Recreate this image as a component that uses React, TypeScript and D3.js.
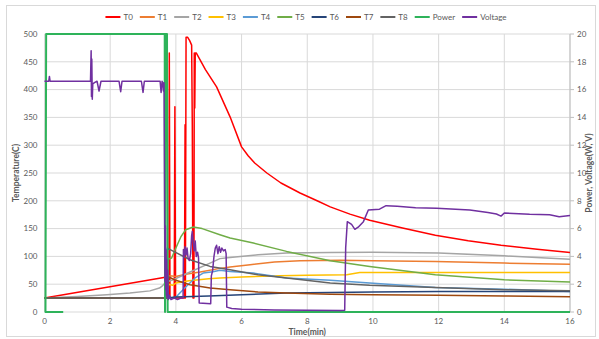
import React from 'react';
import * as d3 from 'd3';

// time in minutes, temperature in C (left axis) / power & voltage on right axis
const t0Data: [number, number][] = [
  [0, 25], [3.72, 63], [3.74, 26], [3.79, 25], [3.8, 466], [3.82, 26], [3.95, 25], [3.97, 369], [3.99, 25],
  [4.26, 25], [4.28, 337], [4.29, 25], [4.31, 494], [4.36, 494], [4.42, 488], [4.48, 480], [4.5, 335],
  [4.52, 25], [4.55, 25], [4.56, 466], [4.575, 367], [4.59, 466], [4.62, 466], [4.9, 436], [5.24, 405],
  [5.65, 351], [6.0, 297], [6.2, 281], [6.4, 268], [6.77, 250], [7.2, 232], [7.78, 214], [8.3, 200], [8.7, 189],
  [9.3, 176], [9.9, 165], [10.9, 151], [11.9, 138], [12.9, 128], [13.9, 120], [15.0, 113], [16, 107],
];
const t1Data: [number, number][] = [
  [0, 25], [3.72, 26], [3.76, 63], [3.82, 65], [4.0, 64], [4.3, 68], [4.74, 72], [5.3, 78], [5.65, 81],
  [6.26, 85], [7.0, 90], [7.78, 92], [9.0, 93], [10, 92], [11.9, 91], [14, 88], [16, 86],
];
const t2Data: [number, number][] = [
  [0, 25], [1.0, 28], [1.9, 31], [2.6, 34], [3.21, 38], [3.5, 43], [3.57, 46], [3.67, 52], [3.75, 55],
  [3.92, 58], [4.43, 72], [5.04, 88], [5.34, 96], [5.65, 98], [6.5, 103], [7.37, 106], [8.7, 107],
  [10, 107.5], [12, 106], [14, 101], [16, 95],
];
const t3Data: [number, number][] = [
  [0, 25], [3.72, 26], [3.78, 50], [3.9, 48], [4.0, 52], [4.4, 56], [5.0, 60], [5.34, 61], [6.0, 63],
  [7.17, 65], [8.0, 66], [9.2, 67], [9.6, 71], [12, 71], [16, 71],
];
const t4Data: [number, number][] = [
  [0, 25], [3.72, 25], [3.9, 25], [4.02, 28], [4.3, 45], [4.6, 62], [4.83, 70], [5.13, 72.5], [5.34, 75],
  [5.65, 73], [6.36, 70], [7.37, 61], [8.7, 57], [9.9, 52], [11.9, 44], [14, 41], [16, 37],
];
const t5Data: [number, number][] = [
  [0, 25], [3.72, 25], [3.76, 95], [3.87, 97], [4.0, 115], [4.15, 135], [4.3, 148], [4.53, 153], [4.8, 150],
  [5.34, 139], [5.65, 133], [6.36, 124], [7.37, 109], [8.7, 92], [9.9, 82], [11.9, 67], [14, 58], [16, 54],
];
const t6Data: [number, number][] = [
  [0, 25], [3.72, 25], [4, 27], [5, 29], [6, 31], [7.37, 34], [8.7, 35], [10, 36], [12, 37], [14, 37], [16, 37],
];
const t7Data: [number, number][] = [
  [0, 25], [3.72, 25], [3.78, 63], [3.82, 62], [4.0, 57], [4.43, 49], [5.04, 43], [5.65, 40], [6.5, 36],
  [7.37, 34], [8.7, 32], [10, 31], [12, 30], [14, 29], [16, 27.5],
];
const t8Data: [number, number][] = [
  [0, 25], [3.7, 25], [3.74, 115], [3.9, 110], [4.43, 94], [5.04, 82], [5.65, 76], [6.5, 67], [7.37, 61],
  [8.7, 52], [9.9, 48], [11.9, 44], [14, 40], [16, 38],
];
const powerData: [number, number][] = [
  [0.57, 0], [0.03, 0], [0.05, 20], [3.66, 20], [3.67, 0], [3.68, 20], [3.73, 20], [3.75, 0], [16, 0],
];
const voltageData: [number, number][] = [
  [0, 16.6], [0.13, 16.6], [0.15, 16.95], [0.17, 16.6], [1.4, 16.6], [1.42, 18.8], [1.43, 15.5], [1.44, 18.2],
  [1.455, 15.3], [1.47, 16.4], [1.52, 16.5], [1.6, 16.6], [1.66, 15.9], [1.72, 16.6], [2.27, 16.6],
  [2.32, 15.85], [2.36, 16.6], [2.95, 16.6], [3.0, 15.8], [3.04, 16.6], [3.52, 16.6], [3.55, 15.8],
  [3.58, 16.6], [3.6, 16.5], [3.62, 15.9], [3.64, 16.5], [3.66, 5.8], [3.67, 2.2], [3.68, 6.2], [3.69, 1.6],
  [3.7, 4.5], [3.71, 1.2], [3.72, 3.8], [3.73, 1.0], [3.75, 3.0], [3.77, 0.9], [3.8, 1.2], [3.85, 0.9],
  [3.95, 1.0], [4.05, 0.9], [4.15, 1.0], [4.22, 1.0], [4.23, 4.5], [4.26, 4.0], [4.28, 4.7], [4.31, 4.1],
  [4.34, 4.6], [4.37, 3.9], [4.41, 3.7], [4.45, 4.2], [4.48, 5.5], [4.5, 5.8], [4.53, 5.0], [4.56, 4.4],
  [4.59, 5.1], [4.62, 4.0], [4.66, 4.3], [4.69, 3.9], [4.71, 0.65], [5.06, 0.6], [5.08, 2.6], [5.12, 3.0],
  [5.16, 4.0], [5.2, 4.6], [5.24, 4.8], [5.28, 4.2], [5.32, 4.7], [5.36, 4.3], [5.4, 4.6], [5.45, 4.4],
  [5.5, 4.5], [5.53, 4.2], [5.55, 0.35], [5.7, 0.25], [6.0, 0.2], [7.0, 0.15], [8.0, 0.12], [9.0, 0.1],
  [9.14, 0.12], [9.17, 4.6], [9.22, 6.5], [9.35, 6.3], [9.45, 5.95], [9.55, 6.1], [9.71, 6.5], [9.86, 7.34],
  [10.2, 7.4], [10.4, 7.65], [10.74, 7.6], [11.3, 7.5], [11.94, 7.46], [12.95, 7.34], [13.5, 7.15],
  [13.76, 7.05], [13.9, 6.9], [14.0, 7.12], [14.77, 7.03], [15.38, 7.0], [15.67, 6.86], [16, 6.94],
];

const seriesNames = ['T0', 'T1', 'T2', 'T3', 'T4', 'T5', 'T6', 'T7', 'T8', 'Power', 'Voltage'];
const seriesColors = ['#ff0000', '#ed7d31', '#a5a5a5', '#ffc000', '#5b9bd5', '#70ad47', '#264478', '#9e480e', '#636363', '#2eb35a', '#7030a0'];
const seriesData = [t0Data, t1Data, t2Data, t3Data, t4Data, t5Data, t6Data, t7Data, t8Data, powerData, voltageData];
const rightAxisSeries = ['Power', 'Voltage'];

const xTicks = [0, 2, 4, 6, 8, 10, 12, 14, 16];
const leftTicks = [0, 50, 100, 150, 200, 250, 300, 350, 400, 450, 500];
const rightTicks = [0, 2, 4, 6, 8, 10, 12, 14, 16, 18, 20];

const W = 599;
const H = 339;
const FONT = 'Lato, "Open Sans", sans-serif';
const TXT = '#595959';

function measure(text: string, size: number) {
  const c = document.createElement('canvas').getContext('2d');
  if (!c) return text.length * size * 0.5;
  c.font = `${size}px Lato`;
  return c.measureText(text).width;
}

export default function App() {
  const left = 44.5, right = 570, top = 34, bottom = 312;

  const x = d3.scaleLinear().domain([0, 16]).range([left, right]);
  const yL = d3.scaleLinear().domain([0, 500]).range([bottom, top]);
  const yR = d3.scaleLinear().domain([0, 20]).range([bottom, top]);

  // legend layout, centred over the plot
  const fs = 8;
  const gap = 7;
  const items = seriesNames.map((n) => ({ n, w: 15 + 3 + measure(n, fs) + gap }));
  const total = d3.sum(items, (d) => d.w) - gap;
  let cx = 306 - total / 2;
  const legend = items.map((it, i) => {
    const pos = cx;
    cx += it.w;
    return { ...it, x: pos, color: seriesColors[i] };
  });

  return (
    <svg width={W} height={H} style={{ position: 'absolute', left: 0, top: 0, background: '#fff' }} fontFamily={FONT}>
      <rect x={6.5} y={5.5} width={589} height={331} fill="#fff" stroke="#d9d9d9" />

      {/* gridlines */}
      {leftTicks.map((v) => (
        <line key={'h' + v} x1={left} x2={right} y1={yL(v)} y2={yL(v)} stroke="#d9d9d9" strokeWidth={1} />
      ))}
      {xTicks.map((v) => (
        <line key={'v' + v} x1={x(v)} x2={x(v)} y1={top} y2={bottom} stroke="#d9d9d9" strokeWidth={1} />
      ))}

      {/* right axis */}
      <line x1={right} x2={right} y1={top} y2={bottom} stroke="#bfbfbf" />
      {rightTicks.map((v) => (
        <g key={'r' + v}>
          <line x1={right} x2={right + 4} y1={yR(v)} y2={yR(v)} stroke="#bfbfbf" />
          <text x={right + 7} y={yR(v)} dy="0.35em" fontSize={8} fill={TXT}>{v}</text>
        </g>
      ))}
      {leftTicks.map((v) => (
        <text key={'l' + v} x={left - 7} y={yL(v)} dy="0.35em" textAnchor="end" fontSize={8} fill={TXT}>{v}</text>
      ))}
      {xTicks.map((v) => (
        <text key={'x' + v} x={x(v)} y={bottom + 11.5} textAnchor="middle" fontSize={8} fill={TXT}>{v}</text>
      ))}

      {/* series */}
      {seriesData.map((data, i) => {
        const yS = rightAxisSeries.includes(seriesNames[i]) ? yR : yL;
        const line = d3.line<[number, number]>().x((d) => x(d[0])).y((d) => yS(d[1]));
        const w = seriesNames[i] === 'Power' ? 2 : 1.5;
        return (
          <path key={seriesNames[i]} d={line(data) || ''} fill="none" stroke={seriesColors[i]} strokeWidth={w} strokeLinejoin="round" />
        );
      })}

      {/* axis titles */}
      <text x={(left + right) / 2} y={334.5} textAnchor="middle" fontSize={8.5} fontWeight="bold" fill={TXT}>Time(min)</text>
      <text transform={`translate(19,${(top + bottom) / 2}) rotate(-90)`} textAnchor="middle" fontSize={8.5} fontWeight="bold" fill={TXT}>Temperature(C)</text>
      <text transform={`translate(592,${(top + bottom) / 2}) rotate(-90)`} textAnchor="middle" fontSize={8.5} fontWeight="bold" fill={TXT}>Power, Voltage(W, V)</text>

      {/* legend */}
      {legend.map((d) => (
        <g key={'lg' + d.n}>
          <line x1={d.x} x2={d.x + 15} y1={17} y2={17} stroke={d.color} strokeWidth={2} />
          <text x={d.x + 18} y={17} dy="0.35em" fontSize={fs} fill={TXT}>{d.n}</text>
        </g>
      ))}
    </svg>
  );
}
